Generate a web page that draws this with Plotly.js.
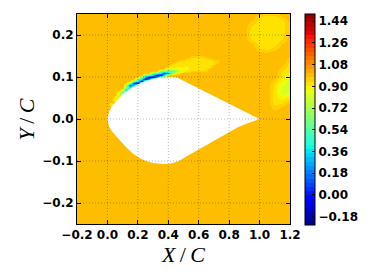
<!DOCTYPE html>
<html>
<head>
<meta charset="utf-8">
<script src="https://cdn.plot.ly/plotly-3.0.1.min.js"></script>
<style>html,body{margin:0;padding:0;background:#fff;}#chart{width:374px;height:280px;}</style>
</head>
<body>
<div id="chart"></div>
<script>
// ---- axis ticks ----
const xTicks = [-0.2, 0.0, 0.2, 0.4, 0.6, 0.8, 1.0, 1.2];
const yTicks = [-0.2, -0.1, 0.0, 0.1, 0.2];
const cbTicks = [-0.18, 0.00, 0.18, 0.36, 0.54, 0.72, 0.90, 1.08, 1.26, 1.44];

// ---- field: free-stream value ----
const freeStream = 1.0;

// ---- sampling grid ----
const gridX = [-0.2, -0.1, 0.0, 0.025, 0.05, 0.075, 0.1, 0.125, 0.15, 0.175, 0.2, 0.225, 0.25, 0.275, 0.3, 0.325, 0.35, 0.375, 0.4, 0.425, 0.45, 0.475, 0.5, 0.525, 0.55, 0.575, 0.6, 0.625, 0.65, 0.675, 0.7, 0.725, 0.75, 0.775, 0.8, 0.85, 0.9, 0.95, 1.0, 1.05, 1.1, 1.15, 1.2];
const gridY = [-0.25, -0.15, -0.05, 0.0, 0.01, 0.02, 0.025, 0.03, 0.035, 0.04, 0.045, 0.05, 0.055, 0.06, 0.065, 0.07, 0.075, 0.08, 0.085, 0.09, 0.095, 0.1, 0.105, 0.11, 0.115, 0.12, 0.125, 0.13, 0.135, 0.14, 0.145, 0.15, 0.155, 0.16, 0.17, 0.18, 0.19, 0.2, 0.21, 0.22, 0.23, 0.24, 0.25];

// ---- nodes that differ from the free stream ----
// each entry: column x, first row y, values on consecutive rows upward
const featColX = [
  0.025, 0.05, 0.075, 0.1, 0.125, 0.15, 0.175, 0.2, 0.225, 0.25, 0.275, 0.3, 0.325, 0.35, 0.375, 0.4, 0.425, 0.45, 0.475,
  0.5, 0.525, 0.55, 0.575, 0.6, 0.625, 0.65, 0.675, 0.7, 0.725,
  0.95, 1.0, 1.05, 1.1, 1.1, 1.15, 1.15, 1.2, 1.2
];
const featColY0 = [
  0.03, 0.045, 0.05, 0.06, 0.065, 0.07, 0.075, 0.08, 0.085, 0.09, 0.09, 0.095, 0.095, 0.1, 0.1, 0.105, 0.105, 0.11, 0.11,
  0.115, 0.115, 0.115, 0.115, 0.115, 0.115, 0.115, 0.125, 0.13, 0.135,
  0.18, 0.16, 0.16, 0.02, 0.17, 0.025, 0.18, 0.035, 0.2
];
const featColZ = [
  [0.95, 0.90, 0.97],
  [0.82, 0.90, 0.96],
  [0.96, 0.68, 0.79, 0.88, 0.97],
  [0.68, 0.50, 0.80, 0.97],
  [0.95, 0.32, 0.56, 0.73, 0.96],
  [0.96, 0.43, 0.12, 0.65, 0.96],
  [0.96, 0.35, 0.00, 0.60, 0.96],
  [0.93, -0.05, 0.32, 0.58, 0.96],
  [0.93, -0.08, 0.30, 0.57, 0.96],
  [0.90, -0.10, 0.29, 0.56, 0.96],
  [0.96, 0.29, -0.10, 0.56, 0.96],
  [0.93, -0.10, 0.29, 0.56, 0.96],
  [0.96, 0.30, -0.08, 0.57, 0.96],
  [0.93, -0.05, 0.32, 0.58, 0.96],
  [0.96, 0.38, 0.05, 0.62, 0.96],
  [0.93, 0.25, 0.51, 0.70, 0.93],
  [0.96, 0.68, 0.50, 0.80, 0.92, 0.95],
  [0.90, 0.70, 0.82, 0.90, 0.92, 0.95],
  [0.95, 0.82, 0.86, 0.90, 0.92, 0.93, 0.97],
  [0.90, 0.87, 0.90, 0.92, 0.93, 0.96],
  [0.92, 0.90, 0.90, 0.91, 0.92, 0.94, 0.97],
  [0.95, 0.92, 0.91, 0.91, 0.92, 0.93, 0.94, 0.97],
  [0.95, 0.93, 0.92, 0.92, 0.92, 0.93, 0.94, 0.97],
  [0.95, 0.93, 0.92, 0.92, 0.92, 0.93, 0.94, 0.97],
  [0.95, 0.93, 0.92, 0.92, 0.92, 0.93, 0.94, 0.97],
  [0.96, 0.94, 0.93, 0.92, 0.92, 0.93, 0.95, 0.98],
  [0.94, 0.93, 0.93, 0.94, 0.97],
  [0.95, 0.935, 0.95],
  [0.96, 0.96],
  [0.97, 0.93, 0.92, 0.92, 0.93, 0.96],
  [0.98, 0.935, 0.92, 0.92, 0.92, 0.92, 0.92, 0.92, 0.92, 0.97],
  [0.97, 0.925, 0.92, 0.92, 0.92, 0.92, 0.92, 0.92, 0.92, 0.95],
  [0.98, 0.965, 0.945, 0.93, 0.92, 0.92, 0.92, 0.92, 0.92, 0.92, 0.92, 0.925, 0.93, 0.94, 0.955, 0.97, 0.985],
  [0.95, 0.925, 0.92, 0.92, 0.92, 0.92, 0.92, 0.92, 0.95],
  [0.99, 0.97, 0.95, 0.93, 0.91, 0.885, 0.86, 0.84, 0.83, 0.825, 0.83, 0.84, 0.86, 0.88, 0.90, 0.91, 0.92, 0.93, 0.94, 0.955, 0.97, 0.985],
  [0.97, 0.935, 0.925, 0.925, 0.925, 0.925, 0.95, 1.0],
  [0.99, 0.975, 0.955, 0.93, 0.89, 0.84, 0.81, 0.795, 0.79, 0.79, 0.795, 0.805, 0.82, 0.84, 0.865, 0.89, 0.905, 0.915, 0.92, 0.93, 0.935, 0.945, 0.96, 0.975, 0.99],
  [0.98, 0.98, 0.98, 0.98]
];

// ---- airfoil outline (TE -> upper -> LE -> lower -> TE) ----
const foilX = [1.0, 0.9, 0.8, 0.7, 0.6, 0.5, 0.46, 0.43, 0.4, 0.35, 0.3, 0.25, 0.2, 0.15, 0.1, 0.07, 0.05, 0.03, 0.015, 0.005, 0.0,
               0.003, 0.01, 0.03, 0.05, 0.08, 0.12, 0.167, 0.21, 0.254, 0.3, 0.36, 0.4, 0.43, 0.47, 0.516, 0.6, 0.71, 0.8, 0.86, 0.9, 0.95, 1.0];
const foilY = [0.0, 0.018, 0.036, 0.055, 0.073, 0.091, 0.098, 0.1, 0.1, 0.099, 0.095, 0.09, 0.082, 0.072, 0.059, 0.048, 0.04, 0.031, 0.02, 0.011, 0.0,
               -0.01, -0.018, -0.03, -0.038, -0.05, -0.066, -0.082, -0.093, -0.1, -0.105, -0.107, -0.107, -0.105, -0.1, -0.09, -0.073, -0.05, -0.032, -0.019, -0.013, -0.006, 0.0];

// ---- colour levels (filled-contour style) ----
const levelMin = -0.25, levelMax = 1.5, levelCount = 50;
// matplotlib jet breakpoints
const jetStops = [
  [0.0, [0, 0, 128]], [0.11, [0, 0, 255]], [0.125, [0, 0, 255]],
  [0.34, [0, 219, 255]], [0.35, [0, 230, 247]], [0.375, [21, 255, 226]],
  [0.64, [239, 255, 8]], [0.65, [247, 245, 0]], [0.66, [255, 236, 0]],
  [0.89, [255, 19, 0]], [0.91, [232, 0, 0]], [1.0, [128, 0, 0]]
];
function jetAt(t) {
  for (let i = 1; i < jetStops.length; i++) {
    if (t <= jetStops[i][0]) {
      const a = jetStops[i - 1], b = jetStops[i];
      const f = (t - a[0]) / (b[0] - a[0]);
      const c = a[1].map((v, k) => Math.round(v + (b[1][k] - v) * f));
      return 'rgb(' + c.join(',') + ')';
    }
  }
  return 'rgb(128,0,0)';
}
const steppedJet = [];
for (let k = 0; k < levelCount; k++) {
  const col = jetAt((k + 0.5) / levelCount);
  steppedJet.push([k / levelCount, col], [(k + 1) / levelCount, col]);
}

function buildGrid(gx, gy, base, colX, colY0, colZ) {
  const z = gy.map(() => gx.map(() => base));
  colX.forEach((x, i) => {
    const xi = gx.findIndex(v => Math.abs(v - x) < 1e-9);
    const yi0 = gy.findIndex(v => Math.abs(v - colY0[i]) < 1e-9);
    colZ[i].forEach((val, k) => { z[yi0 + k][xi] = val; });
  });
  return z;
}

const tfont = {family: 'DejaVu Sans', size: 12, color: '#000', weight: 'bold'};

const field = {
  type: 'heatmap', x: gridX, y: gridY,
  z: buildGrid(gridX, gridY, freeStream, featColX, featColY0, featColZ),
  colorscale: steppedJet, zmin: levelMin, zmax: levelMax, zsmooth: 'best',
  hoverinfo: 'skip',
  colorbar: {
    thickness: 10, thicknessmode: 'pixels', len: 211, lenmode: 'pixels',
    x: 1.0698, xanchor: 'left', xpad: 0, y: 1.0, yanchor: 'top', ypad: 0,
    outlinecolor: '#000', outlinewidth: 1,
    tickvals: cbTicks, tickformat: '.2f', tickfont: tfont,
    ticks: 'inside', ticklen: 3, tickcolor: '#000'
  }
};
const foil = {
  type: 'scatter', mode: 'lines', x: foilX, y: foilY, fill: 'toself',
  fillcolor: '#ffffff', line: {width: 0, color: '#ffffff'}, hoverinfo: 'skip'
};

const gridStyle = {color: 'rgba(0,0,0,0.28)', width: 1, dash: '1px,2px'};
const shapes = [];
xTicks.filter(v => v > -0.2 && v < 1.2).forEach(v => shapes.push({
  type: 'line', xref: 'x', yref: 'paper', x0: v, x1: v, y0: 0, y1: 1, layer: 'above', line: gridStyle
}));
yTicks.forEach(v => shapes.push({
  type: 'line', xref: 'paper', yref: 'y', x0: 0, x1: 1, y0: v, y1: v, layer: 'above', line: gridStyle
}));

const axisCommon = {
  showgrid: false, zeroline: false, showline: true, linecolor: '#000', linewidth: 1,
  mirror: 'allticks', ticks: 'inside', ticklen: 4, tickcolor: '#000', tickwidth: 1,
  layer: 'above traces', tickfont: tfont, tickformat: '.1f'
};
const titleFont = {family: 'Liberation Serif', size: 22, color: '#000'};
const layout = {
  width: 374, height: 280,
  margin: {l: 77, r: 82, t: 14, b: 56, pad: 0},
  paper_bgcolor: '#fff', plot_bgcolor: '#fff', showlegend: false,
  xaxis: Object.assign({}, axisCommon, {
    range: [-0.2, 1.2], tickvals: xTicks,
    title: {text: '<i>X</i>\u2009/\u2009<i>C</i>', font: titleFont, standoff: 1}
  }),
  yaxis: Object.assign({}, axisCommon, {
    range: [-0.25, 0.25], tickvals: yTicks, title: {text: ''}
  }),
  annotations: [{
    text: '<i>Y</i>\u2009/\u2009<i>C</i>', font: titleFont, textangle: -90,
    xref: 'paper', yref: 'paper', x: (26 - 77) / 215, y: 0.5, xanchor: 'center', yanchor: 'middle', showarrow: false
  }],
  shapes: shapes
};

Plotly.newPlot('chart', [field, foil], layout, {staticPlot: true, displayModeBar: false});
</script>
</body>
</html>
